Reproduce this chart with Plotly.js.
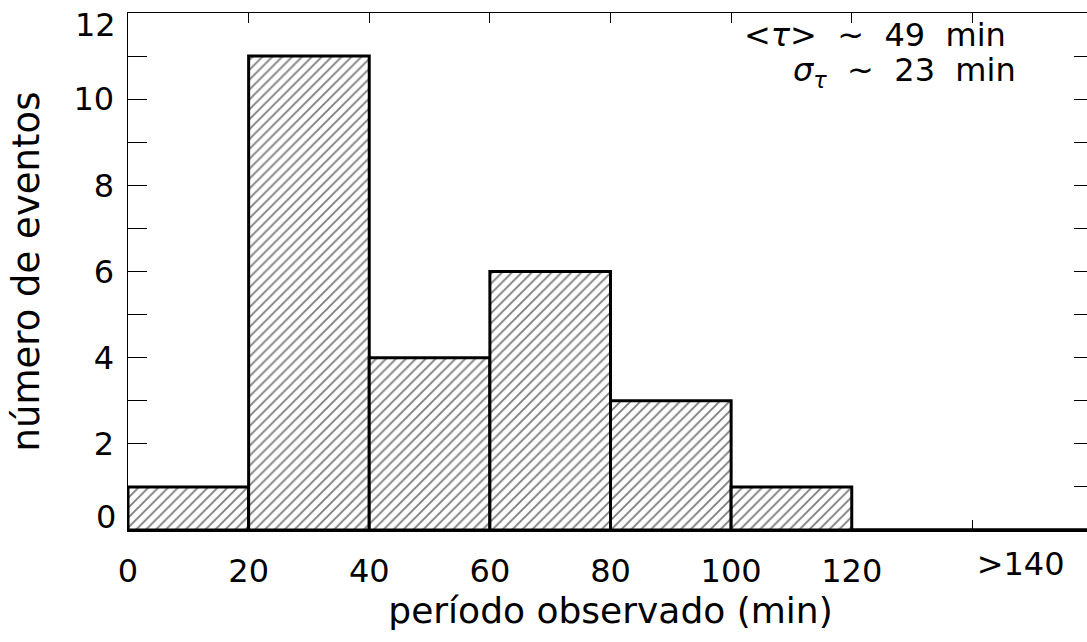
<!DOCTYPE html>
<html>
<head>
<meta charset="utf-8">
<script src="https://cdn.plot.ly/plotly-3.0.1.min.js"></script>
<style>
  html, body { margin: 0; padding: 0; overflow: hidden; background: #fff; }
  #chart { width: 1093px; height: 642px; }
</style>
</head>
<body>
<div id="chart"></div>
<script>
// Histogram bins (minutes) and number of events
const binStart = [0, 20, 40, 60, 80, 100, 120];
const binWidth = [20, 20, 20, 20, 20, 20, 40];
const counts   = [1, 11, 4, 6, 3, 1, 0];

// Axis ticks
const xTickVals = [0, 20, 40, 60, 80, 100, 120, 140];
const xTickText = ['0', '20', '40', '60', '80', '100', '120', ''];
const overflowLabel = '>140';
const yTickVals = [0, 2, 4, 6, 8, 10, 12];
const yTickText = ['0', '2', '4', '6', '8', '10', '12'];

// Statistics
const meanTau = 49;
const sigmaTau = 23;

const FONT = 'DejaVu Sans, Liberation Sans, sans-serif';
const NB = '\u00a0';

const bars = {
  type: 'bar',
  x: binStart,
  y: counts,
  width: binWidth,
  offset: 0,
  marker: {
    color: 'white',
    line: { color: 'black', width: 3 },
    pattern: { shape: '/', size: 7, solidity: 0.27, fgcolor: 'black', bgcolor: 'white', fillmode: 'overlay' }
  },
  hoverinfo: 'x+y',
  showlegend: false
};

// The last (open) bin has zero height: draw its top edge as a line
const last = binStart.length - 1;
const lastBin = {
  type: 'scatter',
  mode: 'lines',
  x: [binStart[last], binStart[last] + binWidth[last]],
  y: [counts[last], counts[last]],
  line: { color: 'black', width: 3 },
  cliponaxis: false,
  hoverinfo: 'skip',
  showlegend: false
};

// helper trace activating the overlay x axis that carries the ">140" label
const xLabelAxisTrace = {
  type: 'scatter', mode: 'none', x: [0], y: [0], xaxis: 'x2', yaxis: 'y',
  hoverinfo: 'skip', showlegend: false
};

const xRange = [0, 160];
const yRange = [0, 12];

// The extreme y labels sit inside the frame in the original figure:
// they are written as annotations pinned to their tick values.
const nY = yTickVals.length;
const yAxisText = yTickText.map((t, i) => (i === 0 || i === nY - 1) ? '' : t);
const edgeLabel = (i, shift) => ({
  xref: 'paper', yref: 'y', x: 0, y: yTickVals[i], xanchor: 'right', yanchor: 'middle',
  xshift: -10, yshift: shift, text: yTickText[i], showarrow: false,
  font: { family: FONT, size: 32, color: 'black' }
});

const layout = {
  width: 1093,
  height: 642,
  margin: { l: 128, r: 0, t: 13, b: 112 },
  paper_bgcolor: 'white',
  plot_bgcolor: 'white',
  font: { family: FONT, color: 'black', size: 32 },
  bargap: 0,
  xaxis: {
    range: xRange,
    tickvals: xTickVals,
    ticktext: xTickText,
    ticks: 'inside',
    ticklen: 10,
    tickwidth: 1,
    tickcolor: 'black',
    showline: true,
    linecolor: 'black',
    linewidth: 1.5,
    mirror: 'allticks',
    showgrid: false,
    zeroline: false,
    tickfont: { family: FONT, size: 32 },
    ticklabelstandoff: 12,
    title: { text: 'período observado (min)', font: { family: FONT, size: 36 }, standoff: 6 }
  },
  xaxis2: {
    range: xRange,
    overlaying: 'x',
    side: 'bottom',
    tickvals: [148],
    ticktext: [overflowLabel],
    ticks: '',
    showline: false,
    showgrid: false,
    zeroline: false,
    tickfont: { family: FONT, size: 32 },
    ticklabelstandoff: 12
  },
  yaxis: {
    range: yRange,
    tickvals: yTickVals,
    ticktext: yAxisText,
    ticks: 'inside',
    ticklen: 19,
    tickwidth: 1,
    tickcolor: 'black',
    minor: { dtick: 1, ticklen: 10, ticks: 'inside', tickcolor: 'black', tickwidth: 1, showgrid: false },
    showline: true,
    linecolor: 'black',
    linewidth: 1.5,
    mirror: 'allticks',
    showgrid: false,
    zeroline: false,
    tickfont: { family: FONT, size: 32 },
    ticklabelstandoff: 6,
    ticklabeloverflow: 'allow',
    title: { text: 'número de eventos', font: { family: FONT, size: 37 }, standoff: 22 }
  },
  annotations: [
    edgeLabel(nY - 1, -12),
    edgeLabel(0, 13),
    {
      xref: 'paper', yref: 'paper', x: 0.912, y: 0.957, xanchor: 'right', yanchor: 'middle',
      text: '&lt;<i>τ</i>&gt;' + NB + NB + '~' + NB + NB + meanTau + NB + NB + 'min',
      showarrow: false, font: { family: FONT, size: 32, color: 'black' }
    },
    {
      xref: 'paper', yref: 'paper', x: 0.922, y: 0.885, xanchor: 'right', yanchor: 'middle',
      text: '<i>σ</i><sub><i>τ</i></sub>' + NB + NB + '~' + NB + NB + sigmaTau + NB + NB + 'min',
      showarrow: false, font: { family: FONT, size: 32, color: 'black' }
    }
  ]
};

Plotly.newPlot('chart', [bars, lastBin, xLabelAxisTrace], layout, { displayModeBar: false, staticPlot: true });
</script>
</body>
</html>
